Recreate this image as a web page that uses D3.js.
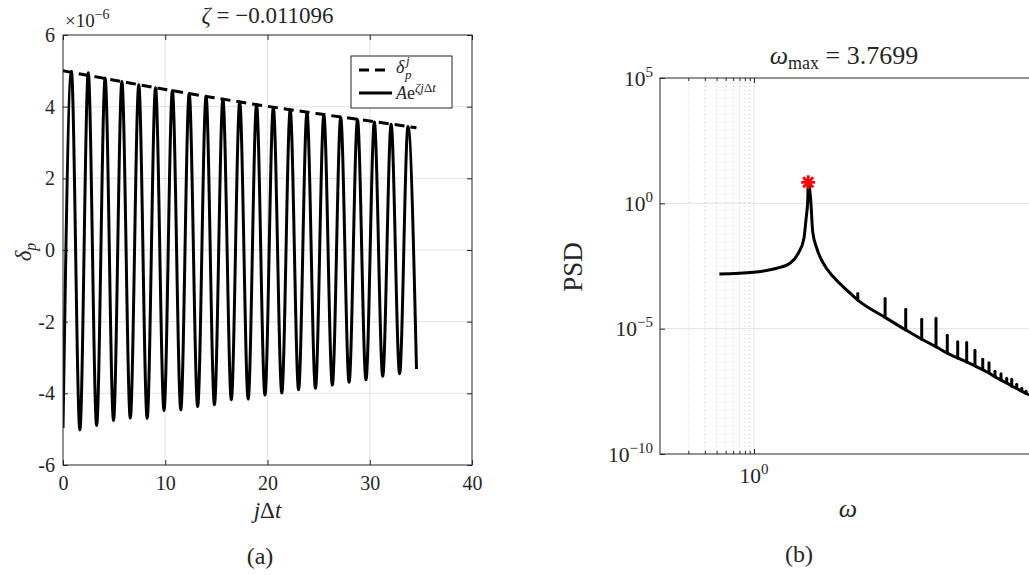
<!DOCTYPE html>
<html>
<head>
<meta charset="utf-8">
<script src="https://cdn.jsdelivr.net/npm/d3@7"></script>
<style>
  body { margin: 0; background: #fff; }
  svg, svg text { font-family: "Liberation Serif", "DejaVu Serif", "Times New Roman", serif; }
  svg text { fill: #262626; }
</style>
</head>
<body>
<svg id="fig" width="1029" height="575" font-family="Liberation Serif, DejaVu Serif, serif"></svg>
<script>
// ---------------- (a) displacement history ----------------
const troughT = [0, 1.65, 3.29, 4.94, 6.58, 8.23, 9.88, 11.52, 13.17, 14.81, 16.46, 18.11,
                 19.75, 21.40, 23.04, 24.69, 26.34, 27.98, 29.63, 31.27, 32.92, 34.57];
const troughV = [-4.97, -5.02, -4.90, -4.76, -4.69, -4.70, -4.48, -4.46, -4.37, -4.32, -4.18,
                 -4.16, -4.05, -3.99, -3.90, -3.86, -3.77, -3.69, -3.62, -3.52, -3.45, -3.32];
const peakT = [0.82, 2.47, 4.12, 5.76, 7.41, 9.05, 10.70, 12.34, 13.99, 15.64, 17.28, 18.93,
               20.57, 22.22, 23.86, 25.51, 27.16, 28.80, 30.45, 32.09, 33.74];
const peakV = [4.99, 4.95, 4.80, 4.70, 4.61, 4.53, 4.45, 4.37, 4.29, 4.21, 4.13, 4.06,
               3.98, 3.91, 3.84, 3.77, 3.70, 3.64, 3.57, 3.51, 3.45];
// sampled envelope delta_p^j
const envT = [0, 5, 10, 15, 20, 25, 30, 34.57];
const envV = [5.00, 4.74, 4.48, 4.24, 4.01, 3.80, 3.60, 3.41];
const xTicksA = [0, 10, 20, 30, 40];
const yTicksA = [-6, -4, -2, 0, 2, 4, 6];

// ---------------- (b) power spectral density ----------------
const psdW = [0.428, 0.983, 1.744, 2.415, 2.96, 3.40, 3.57, 3.73, 3.7699, 4.01, 4.21, 4.65,
              5.46, 6.98, 9.68, 12.7, 24.8, 41.1, 60.8, 86.3, 113.8, 146.8, 183, 224, 271,
              316, 366, 424, 488, 551, 623, 705, 783, 843];
const psdV = [1.51e-3, 1.78e-3, 2.57e-3, 4.07e-3, 1.02e-2, 4.07e-2, 0.219, 1.35, 6.9, 1.35,
              7.4e-2, 1.62e-2, 4.07e-3, 1.17e-3, 3.47e-4, 1.38e-4, 2.82e-5, 8.9e-6, 3.8e-6,
              1.9e-6, 1.05e-6, 6.8e-7, 4.7e-7, 3.3e-7, 2.3e-7, 1.7e-7, 1.2e-7, 8.9e-8, 6.8e-8,
              5.2e-8, 4.1e-8, 3.2e-8, 2.6e-8, 2.3e-8];
const spikeW = [12.7, 24.8, 41.1, 60.8, 86.3, 113.8, 146.8, 183, 224, 271, 316, 366, 424,
                488, 551, 623, 705, 783];
const spikeTop = [2.5e-4, 1.58e-4, 5.9e-5, 2.4e-5, 2.6e-5, 5.5e-6, 3.0e-6, 2.8e-6, 1.38e-6,
                  6.0e-7, 4.4e-7, 2.0e-7, 1.6e-7, 1.05e-7, 9.6e-8, 6.0e-8, 4.2e-8, 3.2e-8];
const omegaMax = 3.7699;
const psdMax = 6.9;
const yTicksB = [1e5, 1e0, 1e-5, 1e-10];
const yExpB = ["5", "0", "\u22125", "\u221210"];
const xMajorB = [1];
const xMinorB = [0.2, 0.3, 0.4, 0.5, 0.6, 0.7, 0.8, 0.9];

const INK = "#262626", GRID = "#e2e2e2", MINOR = "#c8c8c8";
const FONT = "Liberation Serif, DejaVu Serif, serif";
const svg = d3.select("#fig");
const defs = svg.append("defs");

function styleAxis(g) {
  g.attr("font-family", FONT).attr("font-size", null);
  g.select(".domain").remove();
  g.selectAll(".tick line").attr("stroke", INK).attr("stroke-width", 1);
  g.selectAll(".tick text").attr("fill", INK).attr("font-family", FONT);
}

// ================= panel (a) =================
const A = { l: 63, r: 472, t: 35, b: 465 };
const xA = d3.scaleLinear().domain([0, 40]).range([A.l, A.r]);
const yA = d3.scaleLinear().domain([-6, 6]).range([A.b, A.t]);
const ga = svg.append("g");

defs.append("clipPath").attr("id", "clipA")
  .append("rect").attr("x", A.l).attr("y", A.t).attr("width", A.r - A.l).attr("height", A.b - A.t);

// grid
ga.append("g").selectAll("line").data(xTicksA.slice(1, -1)).join("line")
  .attr("x1", d => xA(d)).attr("x2", d => xA(d)).attr("y1", A.t).attr("y2", A.b)
  .attr("stroke", GRID).attr("stroke-width", 1);
ga.append("g").selectAll("line").data(yTicksA.slice(1, -1)).join("line")
  .attr("y1", d => yA(d)).attr("y2", d => yA(d)).attr("x1", A.l).attr("x2", A.r)
  .attr("stroke", GRID).attr("stroke-width", 1);

// axes with inward ticks
ga.append("g").attr("transform", `translate(0,${A.b})`)
  .call(d3.axisBottom(xA).tickValues(xTicksA).tickSize(-5).tickFormat(d3.format("d")))
  .call(styleAxis)
  .call(g => g.selectAll(".tick text").attr("y", 25).attr("dy", null).attr("font-size", "20px"));
ga.append("g").attr("transform", `translate(0,${A.t})`)
  .call(d3.axisTop(xA).tickValues(xTicksA).tickSize(-5).tickFormat(""))
  .call(styleAxis);
ga.append("g").attr("transform", `translate(${A.l},0)`)
  .call(d3.axisLeft(yA).tickValues(yTicksA).tickSize(-5).tickPadding(8)
        .tickFormat(d => d < 0 ? "-" + (-d) : String(d)))
  .call(styleAxis)
  .call(g => g.selectAll(".tick text").attr("dy", "0.33em").attr("font-size", "20px"));
ga.append("g").attr("transform", `translate(${A.r},0)`)
  .call(d3.axisRight(yA).tickValues(yTicksA).tickSize(-5).tickFormat(""))
  .call(styleAxis);

// signal through alternating extremes
const sig = troughT.map((t, i) => [t, troughV[i]])
  .concat(peakT.map((t, i) => [t, peakV[i]]))
  .sort((a, b) => a[0] - b[0]);
const lineA = d3.line().x(d => xA(d[0])).y(d => yA(d[1])).curve(d3.curveMonotoneX);
ga.append("path").attr("clip-path", "url(#clipA)")
  .attr("d", lineA(sig)).attr("fill", "none").attr("stroke", "#000")
  .attr("stroke-width", 3).attr("stroke-linejoin", "round");
ga.append("path").attr("clip-path", "url(#clipA)")
  .attr("d", lineA(envT.map((t, i) => [t, envV[i]]))).attr("fill", "none").attr("stroke", "#000")
  .attr("stroke-width", 3).attr("stroke-dasharray", "10,6");

// box
ga.append("rect").attr("x", A.l).attr("y", A.t).attr("width", A.r - A.l).attr("height", A.b - A.t)
  .attr("fill", "none").attr("stroke", INK).attr("stroke-width", 1);

// exponent multiplier
const mul = ga.append("text").attr("x", 65).attr("y", 27).attr("font-size", "19px");
mul.append("tspan").text("\u00d710");
mul.append("tspan").attr("dy", "-8").attr("font-size", "14px").text("\u22126");

// title
const tA = ga.append("text").attr("x", (A.l + A.r) / 2).attr("y", 23)
  .attr("text-anchor", "middle").attr("font-size", "23px");
tA.append("tspan").attr("font-style", "italic").text("\u03b6");
tA.append("tspan").text(" = \u22120.011096");

// x label
const xlA = ga.append("text").attr("x", (A.l + A.r) / 2).attr("y", 518)
  .attr("text-anchor", "middle").attr("font-size", "23px");
xlA.append("tspan").attr("font-style", "italic").text("j");
xlA.append("tspan").text("\u0394");
xlA.append("tspan").attr("font-style", "italic").text("t");

// y label
const ylA = ga.append("text").attr("transform", "translate(31,252) rotate(-90)")
  .attr("text-anchor", "middle").attr("font-size", "23px");
ylA.append("tspan").attr("font-style", "italic").text("\u03b4");
ylA.append("tspan").attr("font-style", "italic").attr("font-size", "16px").attr("dy", "5").text("p");

// legend
const lg = ga.append("g");
lg.append("rect").attr("x", 351).attr("y", 56).attr("width", 101).attr("height", 52)
  .attr("fill", "#fff").attr("stroke", INK).attr("stroke-width", 1);
lg.append("line").attr("x1", 359).attr("x2", 388).attr("y1", 70).attr("y2", 70)
  .attr("stroke", "#000").attr("stroke-width", 3).attr("stroke-dasharray", "10,6");
lg.append("line").attr("x1", 359).attr("x2", 392).attr("y1", 93).attr("y2", 93)
  .attr("stroke", "#000").attr("stroke-width", 3);
const l1 = lg.append("text").attr("x", 396).attr("y", 73).attr("font-size", "18px");
l1.append("tspan").attr("font-style", "italic").text("\u03b4");
lg.append("text").attr("x", 405).attr("y", 79).attr("font-size", "13px").attr("font-style", "italic").text("p");
lg.append("text").attr("x", 406).attr("y", 65).attr("font-size", "13px").attr("font-style", "italic").text("j");
const l2 = lg.append("text").attr("x", 396).attr("y", 99).attr("font-size", "18px");
l2.append("tspan").attr("font-style", "italic").text("A");
l2.append("tspan").text("e");
const l2s = l2.append("tspan").attr("dy", "-7").attr("font-size", "13px");
l2s.append("tspan").attr("font-style", "italic").text("\u03b6j");
l2s.append("tspan").text("\u0394");
l2s.append("tspan").attr("font-style", "italic").text("t");

// caption
svg.append("text").attr("x", 260).attr("y", 564).attr("text-anchor", "middle")
  .attr("font-size", "24px").text("(a)");

// ================= panel (b) =================
const B = { l: 660, r: 1032, t: 78, b: 454 };
const xB = d3.scaleLog().domain([0.1, 906]).range([B.l, B.r]);
const yB = d3.scaleLog().domain([1e-10, 1e5]).range([B.b, B.t]);
const gb = svg.append("g");

defs.append("clipPath").attr("id", "clipB")
  .append("rect").attr("x", B.l).attr("y", B.t - 20).attr("width", B.r - B.l).attr("height", B.b - B.t + 20);

// grid
gb.append("g").selectAll("line").data(xMinorB).join("line")
  .attr("x1", d => xB(d)).attr("x2", d => xB(d)).attr("y1", B.t).attr("y2", B.b)
  .attr("stroke", MINOR).attr("stroke-width", 1).attr("stroke-dasharray", "1,3");
gb.append("g").selectAll("line").data(xMajorB).join("line")
  .attr("x1", d => xB(d)).attr("x2", d => xB(d)).attr("y1", B.t).attr("y2", B.b)
  .attr("stroke", GRID).attr("stroke-width", 1);
gb.append("g").selectAll("line").data(yTicksB.slice(1, -1)).join("line")
  .attr("y1", d => yB(d)).attr("y2", d => yB(d)).attr("x1", B.l).attr("x2", B.r)
  .attr("stroke", GRID).attr("stroke-width", 1);

// ticks
gb.append("g").attr("transform", `translate(0,${B.b})`)
  .call(d3.axisBottom(xB).tickValues(xMajorB).tickSize(-5).tickFormat("")).call(styleAxis);
gb.append("g").attr("transform", `translate(0,${B.b})`)
  .call(d3.axisBottom(xB).tickValues(xMinorB).tickSize(-3).tickFormat("")).call(styleAxis);
gb.append("g").attr("transform", `translate(0,${B.t})`)
  .call(d3.axisTop(xB).tickValues(xMajorB).tickSize(-5).tickFormat("")).call(styleAxis);
gb.append("g").attr("transform", `translate(0,${B.t})`)
  .call(d3.axisTop(xB).tickValues(xMinorB).tickSize(-3).tickFormat("")).call(styleAxis);
gb.append("g").attr("transform", `translate(${B.l},0)`)
  .call(d3.axisLeft(yB).tickValues(yTicksB).tickSize(-5).tickFormat("")).call(styleAxis);

// tick labels with exponents
yTicksB.forEach((v, i) => {
  const t = gb.append("text").attr("x", B.l - 7).attr("y", yB(v) + 7.5)
    .attr("text-anchor", "end").attr("font-size", "21.5px");
  t.append("tspan").text("10");
  t.append("tspan").attr("dy", "-9").attr("font-size", "15px").text(yExpB[i]);
});
xMajorB.forEach(v => {
  const t = gb.append("text").attr("x", xB(v)).attr("y", 483)
    .attr("text-anchor", "middle").attr("font-size", "21.5px");
  t.append("tspan").text("10");
  t.append("tspan").attr("dy", "-9").attr("font-size", "15px").text("0");
});

// spectrum
const lineB = d3.line().x(d => xB(d[0])).y(d => yB(d[1])).curve(d3.curveMonotoneX);
const curveB = gb.append("g").attr("clip-path", "url(#clipB)");
curveB.append("path").attr("d", lineB(psdW.map((w, i) => [w, psdV[i]])))
  .attr("fill", "none").attr("stroke", "#000").attr("stroke-width", 3).attr("stroke-linejoin", "round");
curveB.append("g").selectAll("line").data(spikeW).join("line")
  .attr("x1", d => xB(d)).attr("x2", d => xB(d))
  .attr("y1", d => yB(psdV[psdW.indexOf(d)]))
  .attr("y2", (d, i) => yB(spikeTop[i]))
  .attr("stroke", "#000").attr("stroke-width", 3).attr("stroke-linecap", "round");

// marker at the spectral peak
const mx = xB(omegaMax), my = yB(psdMax), ms = 7;
const star = gb.append("g").attr("stroke", "#ff0000").attr("stroke-width", 2.8);
[[ms, 0], [0, ms], [ms * 0.72, ms * 0.72], [ms * 0.72, -ms * 0.72]].forEach(([dx, dy]) => {
  star.append("line").attr("x1", mx - dx).attr("y1", my - dy).attr("x2", mx + dx).attr("y2", my + dy);
});

// box
gb.append("rect").attr("x", B.l).attr("y", B.t).attr("width", B.r - B.l).attr("height", B.b - B.t)
  .attr("fill", "none").attr("stroke", INK).attr("stroke-width", 1);

// title
const tB = gb.append("text").attr("x", 844).attr("y", 64)
  .attr("text-anchor", "middle").attr("font-size", "26px");
tB.append("tspan").attr("font-style", "italic").text("\u03c9");
tB.append("tspan").attr("dy", "5").attr("font-size", "18px").text("max");
tB.append("tspan").attr("dy", "-5").text(" = 3.7699");

// axis labels
gb.append("text").attr("x", 848).attr("y", 517).attr("text-anchor", "middle")
  .attr("font-size", "26px").attr("font-style", "italic").text("\u03c9");
gb.append("text").attr("transform", "translate(582,267) rotate(-90)")
  .attr("text-anchor", "middle").attr("font-size", "27px").text("PSD");

// caption
svg.append("text").attr("x", 799).attr("y", 562).attr("text-anchor", "middle")
  .attr("font-size", "24px").text("(b)");
</script>
</body>
</html>
